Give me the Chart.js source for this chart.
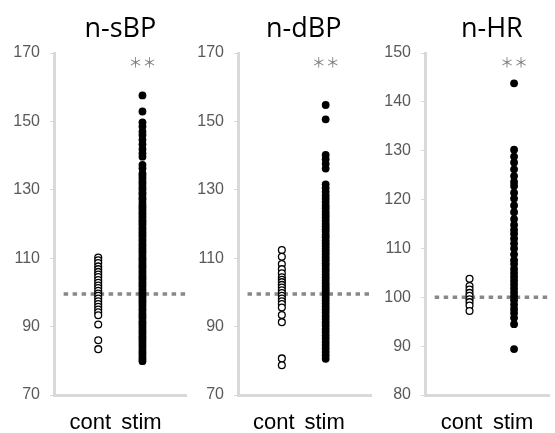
<!DOCTYPE html>
<html>
<head>
<meta charset="utf-8">
<script src="https://cdn.jsdelivr.net/npm/chart.js@4.4.1/dist/chart.umd.min.js"></script>
<style>
  body { margin: 0; background: #fff; }
  .panel { position: absolute; top: 0; height: 433px; }
  #p1 { left: 0; width: 192px; }
  #p2 { left: 185px; width: 192px; }
  #p3 { left: 370px; width: 185px; }
</style>
</head>
<body>
<div class="panel" id="p1"><canvas id="c1"></canvas></div>
<div class="panel" id="p2"><canvas id="c2"></canvas></div>
<div class="panel" id="p3"><canvas id="c3"></canvas></div>
<script>
// カテゴリ
const groups = ["cont", "stim"];
const titles = ["n-sBP", "n-dBP", "n-HR"];

// n-sBP
const sbpCont = [110.2, 109.4, 108.6, 107.6, 106.8, 106, 105.2, 104.5, 103.6, 102.8, 102, 101.3,
  100.5, 99.7, 99, 98.2, 97.4, 96.6, 95.8, 95, 94.2, 93.3, 90.6, 86, 83.4];
const sbpStim = [157.6, 152.9, 149.7, 148.5, 147, 146, 144.6, 143.3, 141.9, 140.7, 139.7, 137.3,
  136.3, 134.8, 134.1, 133.3, 132.4, 131.7, 130.8, 130.1, 129.2, 128.6, 127.7, 127.1, 126.2,
  125.4, 124.8, 124.1, 123.3, 122.7, 122, 121.2, 120.6, 119.9, 119.1, 118.5, 117.7, 117.1,
  116.4, 115.6, 115, 114.2, 113.6, 112.8, 112.1, 111.5, 110.7, 110, 109.4, 108.6, 107.9,
  107.3, 106.5, 105.8, 105.1, 104.4, 103.8, 103, 102.3, 101.7, 100.9, 100.2, 99.6, 98.8,
  98.1, 97.4, 96.7, 96, 95.2, 94.6, 93.8, 93.1, 92.5, 91.6, 90.9, 90.2, 89.4, 88.7, 88,
  87.2, 86.5, 85.8, 85, 84.3, 83.5, 82.7, 82, 81.2, 80.5, 79.9];

// n-dBP
const dbpCont = [112.4, 110.4, 108.3, 106.8, 105.6, 104.4, 103.7, 103, 102.2, 101.4, 100.6, 99.8,
  99, 98.2, 97.4, 96.6, 95.6, 93.4, 91.3, 80.7, 78.7];
const dbpStim = [154.8, 150.6, 140.2, 138.9, 137.6, 136.2, 131.6, 130.5, 129.4, 128.3, 127.4,
  126.4, 125.4, 124.6, 123.6, 122.7, 121.9, 121, 120.1, 119.3, 118.5, 117.7, 116.8, 116.1,
  115.2, 114.4, 113.6, 112.7, 111.9, 111.1, 110.2, 109.4, 108.5, 107.8, 106.9, 106.1, 105.2,
  104.4, 103.6, 102.7, 101.9, 101.1, 100.3, 99.4, 98.5, 97.7, 96.8, 95.9, 95, 94.1, 93.1,
  92.2, 91.2, 90.3, 89.3, 88.4, 87.4, 86.5, 85.5, 84.6, 83.6, 82.6, 81.6, 80.6];

// n-HR
const hrCont = [103.8, 102.3, 101.6, 100.9, 100.3, 99.6, 99, 98.3, 97.2];
const hrStim = [143.8, 130.2, 128.8, 127.6, 126.2, 124.8, 123.6, 122.8, 121.4, 120.2, 118.8,
  117.4, 116, 114.8, 113.8, 113, 112, 111, 110, 108.8, 107.6, 106.8, 105.8, 105, 104.2, 103.4,
  102.6, 101.8, 101, 100.2, 99.4, 98.5, 97.6, 96.8, 95.8, 94.5, 89.4];

// 基準線
const refLevels = [99.5, 99.5, 100];

// 目盛り
const yTicksBP = [70, 90, 110, 130, 150, 170];
const yTicksHR = [80, 90, 100, 110, 120, 130, 140, 150];

// タイトル・有意差・カテゴリ名
const panelLabelPlugin = {
    id: "panelLabels",
    afterDraw(chart, args, options) {
        const { ctx, chartArea, scales } = chart;
        const x1 = scales.x.getPixelForValue(1);
        const x2 = scales.x.getPixelForValue(2);

        ctx.save();
        ctx.textAlign = "center";
        ctx.fillStyle = "#000";
        ctx.font = '27px "Open Sans"';
        ctx.textBaseline = "alphabetic";
        ctx.fillText(options.title, (x1 + x2) / 2, chartArea.top - 16);

        // カテゴリ名
        ctx.font = '22px "Liberation Sans"';
        ctx.fillText(groups[0], x1 - 8, chartArea.bottom + 34);
        ctx.fillText(groups[1], x2 - 1, chartArea.bottom + 34);

        ctx.fillStyle = "#7f7f7f";
        ctx.font = '14px "Noto Sans CJK JP"';
        ctx.textBaseline = "middle";
        ctx.fillText("＊＊", x2, chartArea.top + 9);
        ctx.restore();
    }
};

function makePanel(canvasId, title, contData, stimData, refLevel, yTicks, xMax, axisWidth) {
    const refStart = 10 / 46;

    return new Chart(document.getElementById(canvasId), {
        type: "scatter",
        data: {
            datasets: [
                {
                    data: contData.map(v => ({ x: 1, y: v })),
                    backgroundColor: "#fff",
                    borderColor: "#000",
                    borderWidth: 1.3,
                    pointRadius: 3.4
                },
                {
                    data: stimData.map(v => ({ x: 2, y: v })),
                    backgroundColor: "#000",
                    borderColor: "#000",
                    borderWidth: 0,
                    pointRadius: 3.9
                },
                {
                    type: "line",
                    data: [{ x: refStart, y: refLevel }, { x: xMax, y: refLevel }],
                    borderColor: "#888",
                    borderWidth: 3.5,
                    borderDash: [4.5, 4.5],
                    pointRadius: 0,
                    fill: false
                }
            ]
        },
        options: {
            responsive: true,
            maintainAspectRatio: false,
            animation: false,
            layout: {
                padding: { top: 53, right: 0, bottom: 0, left: 0 }
            },
            scales: {
                x: {
                    type: "linear",
                    min: 0,
                    max: xMax,
                    afterBuildTicks(scale) {
                        scale.ticks = [{ value: 1 }, { value: 2 }];
                    },
                    afterFit(scale) {
                        scale.height = 38;
                    },
                    ticks: {
                        display: false
                    },
                    grid: {
                        drawOnChartArea: false,
                        tickLength: 0
                    },
                    border: {
                        color: "#d9d9d9",
                        width: 3
                    }
                },
                y: {
                    min: yTicks[0],
                    max: yTicks[yTicks.length - 1],
                    afterBuildTicks(scale) {
                        scale.ticks = yTicks.map(v => ({ value: v }));
                    },
                    afterFit(scale) {
                        scale.width = axisWidth;
                    },
                    ticks: {
                        color: "#595959",
                        padding: 10,
                        font: { family: "Liberation Sans", size: 16 }
                    },
                    grid: {
                        drawOnChartArea: false,
                        tickLength: 4,
                        color: "#d9d9d9"
                    },
                    border: {
                        color: "#d9d9d9",
                        width: 3
                    }
                }
            },
            plugins: {
                legend: { display: false },
                tooltip: { enabled: false },
                panelLabels: { title: title }
            }
        },
        plugins: [panelLabelPlugin]
    });
}

makePanel("c1", titles[0], sbpCont, sbpStim, refLevels[0], yTicksBP, 3.0, 54);
makePanel("c2", titles[1], dbpCont, dbpStim, refLevels[1], yTicksBP, 3.05, 53);
makePanel("c3", titles[2], hrCont, hrStim, refLevels[2], yTicksHR, 2.8, 55);
</script>
</body>
</html>
